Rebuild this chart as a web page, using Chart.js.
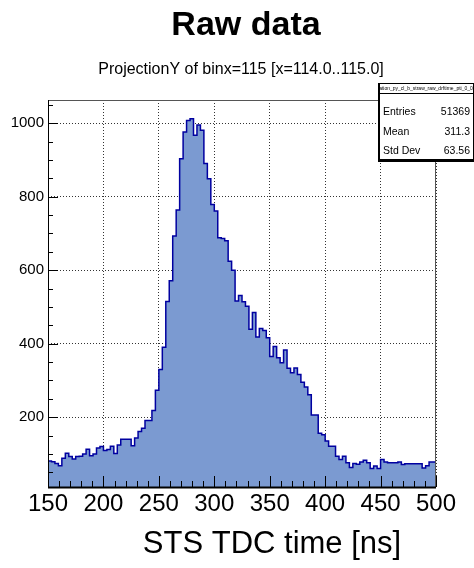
<!DOCTYPE html>
<html><head><meta charset="utf-8">
<script src="https://cdn.jsdelivr.net/npm/chart.js@4.4.0/dist/chart.umd.min.js"></script>
<style>html,body{margin:0;padding:0;background:#fff;overflow:hidden;}#wrap{width:474px;height:568px;}</style>
</head><body><div id="wrap"><canvas id="c" width="474" height="568"></canvas></div>
<script>
const mainTitle = 'Raw data';
const subTitle = 'ProjectionY of binx=115 [x=114.0..115.0]';
const xTitle = 'STS TDC time [ns]';
const binLow = 150, binHigh = 500, binWidth = 3.125;
const yMin = 10, yMax = 1063;
const counts = [
  82, 81, 79, 74, 68, 88, 102, 93, 86, 93,
  94, 100, 113, 95, 100, 116, 120, 109, 112, 121,
  101, 124, 140, 140, 140, 122, 143, 161, 170, 191,
  191, 218, 273, 330, 390, 515, 571, 693, 764, 903,
  976, 1007, 1012, 967, 995, 981, 890, 849, 779, 761,
  688, 686, 680, 624, 600, 516, 531, 514, 502, 439,
  485, 418, 441, 436, 416, 365, 392, 362, 348, 383,
  333, 321, 334, 316, 295, 282, 261, 206, 206, 156,
  152, 135, 121, 121, 94, 85, 94, 76, 63, 74,
  72, 78, 83, 76, 60, 67, 60, 85, 78, 76,
  76, 76, 78, 71, 73, 73, 73, 73, 73, 62,
  68, 78
];
const xTickStep = 50, xMinorStep = 10;
const yTickStep = 200, yMinorStep = 50;
const statsName = 'ation_py_cl_b_straw_raw_drftime_pti_0_0';
const statsLabels = ['Entries', 'Mean', 'Std Dev'];
const statsValues = ['51369', '311.3', '63.56'];

const FONT = '"Liberation Sans", Arial, Helvetica, sans-serif';

const points = counts.map((v, i) => ({x: binLow + i * binWidth, y: v}));
points.push({x: binHigh, y: counts[counts.length - 1]});

const rootDecor = {
  id: 'rootDecor',
  afterDatasetsDraw(chart) {
    const {ctx, chartArea: a, scales: {x, y}} = chart;
    ctx.save();
    ctx.strokeStyle = '#000';
    ctx.lineWidth = 1;
    ctx.beginPath();
    for (let k = 0; binLow + k * xMinorStep <= binHigh; k++) {
      const v = binLow + k * xMinorStep;
      const px = Math.round(x.getPixelForValue(v)) + 0.5;
      const len = (v % xTickStep === 0) ? 11 : 6;
      ctx.moveTo(px, a.bottom);
      ctx.lineTo(px, a.bottom - len);
    }
    for (let v = yMinorStep; v <= yMax; v += yMinorStep) {
      if (v < yMin) continue;
      const py = Math.round(y.getPixelForValue(v)) + 0.5;
      const len = (v % yTickStep === 0) ? 10 : 5;
      ctx.moveTo(a.left, py);
      ctx.lineTo(a.left + len, py);
    }
    ctx.stroke();
    ctx.strokeStyle = '#555';
    ctx.strokeRect(a.left + 0.5, a.top + 0.5, a.right - a.left - 1, a.bottom - a.top);
    ctx.strokeStyle = '#000';
    ctx.beginPath();
    ctx.moveTo(a.left + 0.5, a.top);
    ctx.lineTo(a.left + 0.5, a.bottom);
    ctx.stroke();
    ctx.lineWidth = 2;
    ctx.beginPath();
    ctx.moveTo(a.left, a.bottom + 0.5);
    ctx.lineTo(a.right, a.bottom + 0.5);
    ctx.stroke();
    ctx.restore();
  },
  afterDraw(chart) {
    const {ctx} = chart;
    ctx.save();
    ctx.fillStyle = '#000';
    ctx.textAlign = 'center';
    ctx.textBaseline = 'alphabetic';
    ctx.font = 'bold 34px ' + FONT;
    ctx.fillText(mainTitle, 246, 35);
    ctx.font = '16px ' + FONT;
    ctx.fillText(subTitle, 241, 74);
    ctx.font = '31px ' + FONT;
    ctx.fillText(xTitle, 272, 553);
    const bx = 378, by = 83, bw = 96, bh = 77;
    ctx.fillStyle = '#fff';
    ctx.fillRect(bx, by, bw, bh);
    ctx.strokeStyle = '#000';
    ctx.lineWidth = 1;
    ctx.strokeRect(bx + 0.5, by + 0.5, bw - 1, bh - 1);
    ctx.lineWidth = 2;
    ctx.beginPath();
    ctx.moveTo(bx + 1, by);
    ctx.lineTo(bx + 1, by + bh + 1);
    ctx.lineTo(bx + bw, by + bh + 1);
    ctx.stroke();
    ctx.lineWidth = 1;
    ctx.beginPath();
    ctx.moveTo(bx, by + 10.5);
    ctx.lineTo(bx + bw, by + 10.5);
    ctx.stroke();
    ctx.fillStyle = '#000';
    ctx.font = '5px ' + FONT;
    ctx.textAlign = 'center';
    ctx.textBaseline = 'middle';
    ctx.fillText(statsName, bx + bw / 2, by + 5.5);
    ctx.font = '10.5px ' + FONT;
    const rowsY = [112, 132, 151];
    statsLabels.forEach((lab, i) => {
      ctx.textAlign = 'left';
      ctx.fillText(lab, bx + 5, rowsY[i]);
      ctx.textAlign = 'right';
      ctx.fillText(statsValues[i], bx + bw - 4, rowsY[i]);
    });
    ctx.restore();
  }
};

new Chart(document.getElementById('c'), {
  type: 'line',
  data: {
    datasets: [{
      data: points,
      stepped: 'after',
      fill: 'origin',
      backgroundColor: 'rgb(123,154,209)',
      borderColor: 'rgb(0,0,160)',
      borderWidth: 1.5,
      pointRadius: 0,
      tension: 0
    }]
  },
  options: {
    responsive: false,
    devicePixelRatio: 1,
    animation: false,
    layout: {padding: {top: 100, right: 38, bottom: 0, left: 0}},
    plugins: {legend: {display: false}, tooltip: {enabled: false}, title: {display: false}},
    scales: {
      x: {
        type: 'linear',
        min: binLow, max: binHigh,
        afterFit: s => { s.height = 81; },
        grid: {color: 'rgba(0,0,0,0.8)', lineWidth: 1, drawTicks: false},
        border: {display: false, dash: [1, 2]},
        ticks: {stepSize: xTickStep, autoSkip: false, maxRotation: 0, includeBounds: false,
                padding: 3, color: '#000', font: {family: FONT, size: 24},
                callback: v => String(v)}
      },
      y: {
        type: 'linear',
        min: yMin, max: yMax,
        afterFit: s => { s.width = 48; },
        grid: {color: 'rgba(0,0,0,0.8)', lineWidth: 1, drawTicks: false},
        border: {display: false, dash: [1, 2]},
        ticks: {stepSize: yTickStep, includeBounds: false, padding: 4, color: '#000',
                font: {family: FONT, size: 15}, callback: v => String(v)}
      }
    }
  },
  plugins: [rootDecor]
});
</script>
</body></html>
